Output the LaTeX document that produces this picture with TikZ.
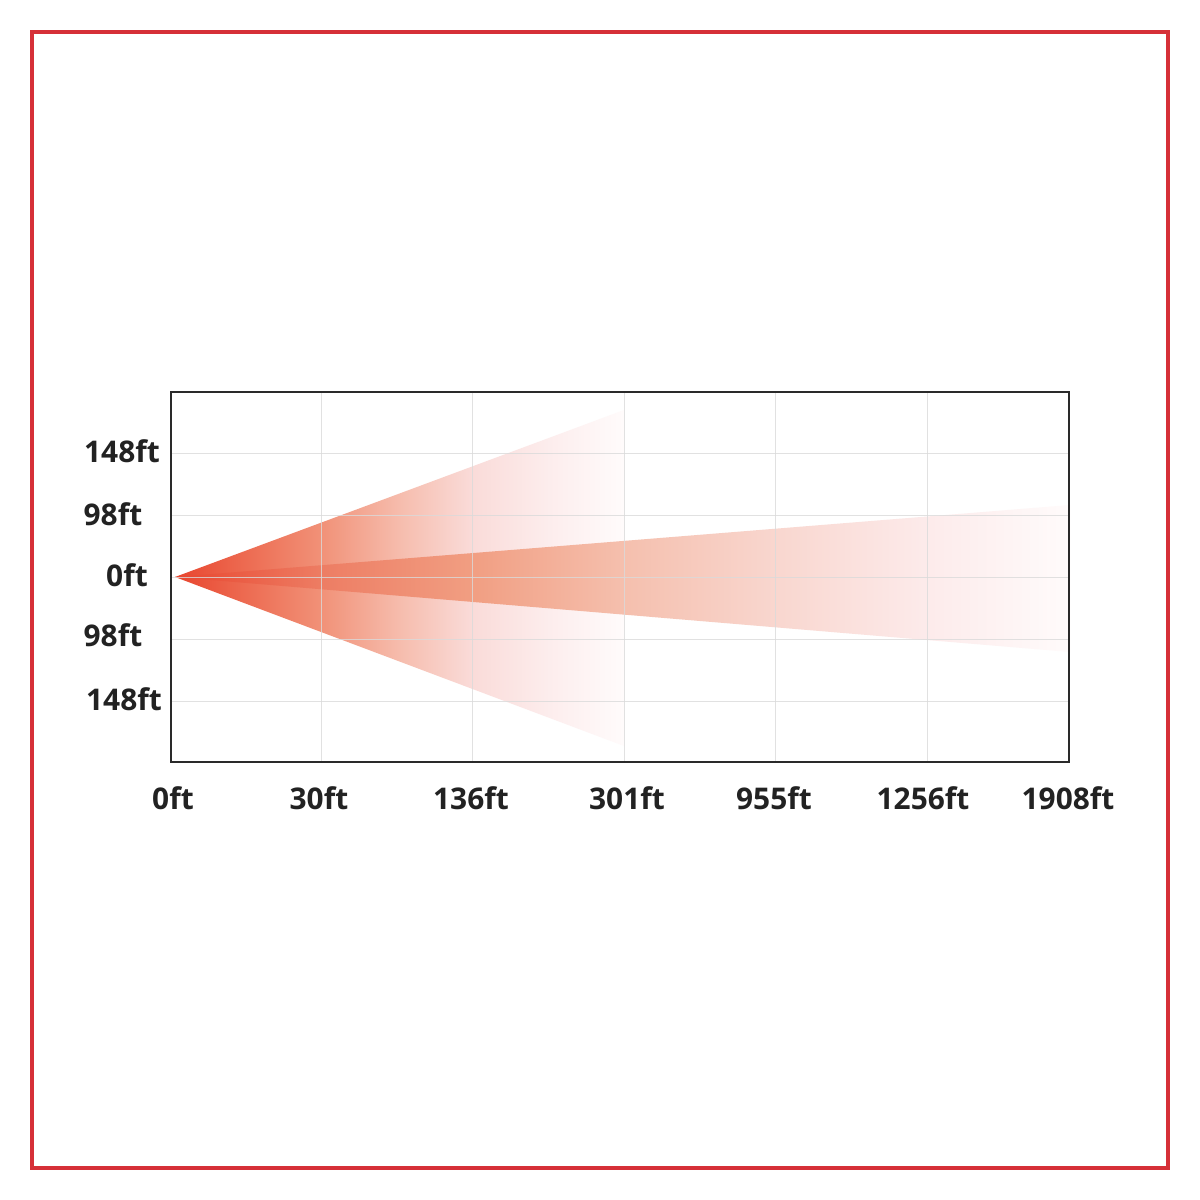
\documentclass[tikz,border=0pt]{standalone}
\usepackage{fontspec}
\setmainfont{Open Sans}
\definecolor{labelgray}{HTML}{222222}
\definecolor{gridgray}{HTML}{DADADA}
\definecolor{boxgray}{HTML}{2A2A2A}
\definecolor{borderred}{HTML}{D63038}
\pgfdeclarehorizontalshading{widefan}{100bp}{rgb(0bp)=(0.91,0.27,0.18); rgb(25bp)=(0.91,0.27,0.18); rgb(33.4bp)=(0.93,0.43,0.33); rgb(41.3bp)=(0.945,0.57,0.47); rgb(50.1bp)=(0.965,0.74,0.68); rgb(58.1bp)=(0.98,0.86,0.85); rgb(66.8bp)=(0.99,0.93,0.93); rgb(75bp)=(1,0.985,0.985); rgb(100bp)=(1,0.985,0.985)}
\pgfdeclarehorizontalshading{beam}{100bp}{rgb(0bp)=(0.91,0.27,0.18); rgb(25bp)=(0.91,0.27,0.18); rgb(33.2bp)=(0.93,0.49,0.39); rgb(41.6bp)=(0.945,0.62,0.51); rgb(50bp)=(0.96,0.75,0.68); rgb(58.5bp)=(0.975,0.84,0.81); rgb(67bp)=(0.99,0.92,0.92); rgb(75bp)=(1,0.985,0.985); rgb(100bp)=(1,0.985,0.985)}
\begin{document}
\begin{tikzpicture}[x=0.02cm,y=-0.02cm,
  lbl/.style={font=\bfseries\fontsize{17}{20}\selectfont, text=labelgray, inner sep=0pt},
  gridline/.style={line width=0.5pt, draw=gridgray, opacity=0.8},
  chartbox/.style={line width=1.1pt, draw=boxgray},
  frame/.style={line width=2.3pt, draw=borderred}]
\fill[white] (0,0) rectangle (1200,1200);
\useasboundingbox (0,0) rectangle (1200,1200);
% light fans
\shade[shading=widefan] (175,577) -- (624,410) -- (624,746) -- cycle;
\shade[shading=beam] (175,577) -- (1070,505) -- (1070,652) -- cycle;
% grid
\foreach \gx in {321,472,624,775,927} \draw[gridline] (\gx,392) -- (\gx,762);
\foreach \gy in {453,515,577,639,701} \draw[gridline] (171,\gy) -- (1069,\gy);
% chart frame
\draw[chartbox] (171,392) rectangle (1069,762);
% outer red border
\draw[frame] (32,32) rectangle (1168,1168);
% y labels
\node[lbl] (y1) at (122,451) {148ft};
\node[lbl] (y2) at (113,514) {98ft};
\node[lbl] (y3) at (127,575) {0ft};
\node[lbl] (y4) at (113,635) {98ft};
\node[lbl] (y5) at (124,699) {148ft};
% x labels
\node[lbl] (x0) at (173,798) {0ft};
\node[lbl] (x1) at (319,798) {30ft};
\node[lbl] (x2) at (471,798) {136ft};
\node[lbl] (x3) at (627,798) {301ft};
\node[lbl] (x4) at (774,798) {955ft};
\node[lbl] (x5) at (923,798) {1256ft};
\node[lbl] (x6) at (1068,798) {1908ft};
\end{tikzpicture}
\end{document}
